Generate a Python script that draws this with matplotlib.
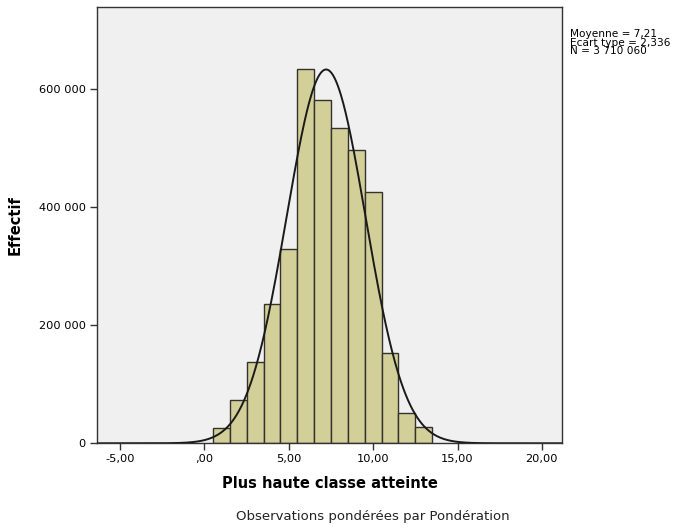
import numpy as np
import matplotlib
matplotlib.use("Agg")
import matplotlib.pyplot as plt

plt.rcParams["font.family"] = ["DejaVu Sans"]

# Histogram of "Plus haute classe atteinte" (weighted counts), one bar per class
classes = [1, 2, 3, 4, 5, 6, 7, 8, 9, 10, 11, 12, 13]
counts = [26400, 73400, 137300, 236100, 329300, 634400, 581400,
          534900, 497100, 425400, 153600, 50800, 27600]
mean = 7.21
sd = 2.336
n_total = 3710060
stats_lines = ["Moyenne = 7,21", "Ecart type = 2,336", "N = 3 710 060"]

x_ticks = [-5, 0, 5, 10, 15, 20]
x_tick_labels = ["-5,00", ",00", "5,00", "10,00", "15,00", "20,00"]
y_ticks = [0, 200000, 400000, 600000]
y_tick_labels = ["0", "200 000", "400 000", "600 000"]

fig = plt.figure(figsize=(6.82, 5.30), dpi=100)
ax = fig.add_axes([0.1422, 0.1636, 0.6818, 0.8226])
ax.set_facecolor("#f0f0f0")

ax.bar(classes, counts, width=1.0, color="#d3cf99", edgecolor="#33332b",
       linewidth=1.0, zorder=2)

xs = np.linspace(-6.5, 21.5, 600)
pdf = n_total * 1.0 / (sd * np.sqrt(2 * np.pi)) * np.exp(-0.5 * ((xs - mean) / sd) ** 2)
ax.plot(xs, pdf, color="#1a1a1a", linewidth=1.4, zorder=3)

ax.set_xlim(-6.37, 21.19)
ax.set_ylim(0, 739000)
ax.set_xticks(x_ticks)
ax.set_xticklabels(x_tick_labels, fontsize=8.2)
ax.set_yticks(y_ticks)
ax.set_yticklabels(y_tick_labels, fontsize=8.2)
ax.tick_params(direction="out", length=5, width=1, color="#333333", pad=3)

for sp in ax.spines.values():
    sp.set_color("#333333")
    sp.set_linewidth(1)

ax.set_xlabel("Plus haute classe atteinte", fontsize=10.5, fontweight="bold", labelpad=8)
ax.set_ylabel("Effectif", fontsize=10.5, fontweight="bold", labelpad=12)

fig.text(0.836, 0.945, "\n".join(stats_lines), fontsize=7.6, va="top", ha="left",
         linespacing=0.8)
fig.text(0.547, 0.025, "Observations pondérées par Pondération",
         fontsize=9.5, ha="center", va="center", color="#222222")

fig.savefig("out.png", dpi=100)
